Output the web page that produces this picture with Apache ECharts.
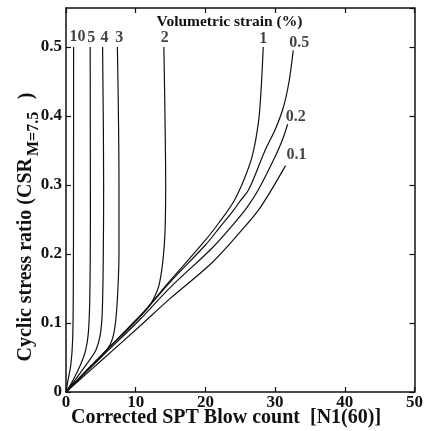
<!DOCTYPE html>
<html>
<head>
<meta charset="utf-8">
<script src="https://cdn.jsdelivr.net/npm/echarts@6/dist/echarts.min.js"></script>
<style>
html,body{margin:0;padding:0;background:#fff;}
#chart{width:426px;height:431px;}
</style>
</head>
<body>
<div id="chart"></div>
<script>
// ---- data ----
const curveNames = ['10', '5', '4', '3', '2', '1', '0.5', '0.2', '0.1'];

const strain10X = [0, 0.25, 0.7, 0.95, 1.05, 1.08, 1.09];
const strain10Y = [0, 0.015, 0.04, 0.075, 0.15, 0.3, 0.5];

const strain5X = [0, 1.0, 2.1, 2.8, 3.2, 3.4, 3.5, 3.47];
const strain5Y = [0, 0.017, 0.04, 0.06, 0.085, 0.13, 0.25, 0.5];

const strain4X = [0, 2.0, 3.5, 4.3, 4.9, 5.2, 5.35, 5.4, 5.25];
const strain4Y = [0, 0.027, 0.048, 0.061, 0.082, 0.115, 0.2, 0.3, 0.5];

const strain3X = [0, 3, 5.5, 6.3, 6.8, 7.15, 7.4, 7.6, 7.6, 7.37];
const strain3Y = [0, 0.032, 0.057, 0.068, 0.082, 0.105, 0.14, 0.2, 0.3, 0.5];

const strain2X = [0, 5, 10, 11.4, 12.4, 13.3, 13.9, 14.2, 14.3, 14.2, 14.04];
const strain2Y = [0, 0.052, 0.104, 0.118, 0.132, 0.153, 0.19, 0.23, 0.3, 0.4, 0.5];

const strain1X = [0, 5, 10.5, 15, 20, 22, 24, 25.5, 26.7, 27.6, 28.0, 28.3];
const strain1Y = [0, 0.052, 0.109, 0.162, 0.22, 0.246, 0.275, 0.307, 0.341, 0.39, 0.44, 0.5];

const strain05X = [0, 5, 10.5, 15, 20, 22, 24, 25, 26.2, 28.6, 30, 31.2, 32, 32.6];
const strain05Y = [0, 0.052, 0.108, 0.16, 0.213, 0.238, 0.263, 0.277, 0.293, 0.351, 0.38, 0.413, 0.45, 0.495];

const strain02X = [0, 5, 10.5, 15, 20.9, 24, 26, 27.6, 30, 31, 31.8];
const strain02Y = [0, 0.05, 0.104, 0.152, 0.208, 0.243, 0.268, 0.293, 0.341, 0.364, 0.388];

const strain01X = [0, 5, 10.5, 15, 20.9, 25, 27.5, 29.3, 31.5];
const strain01Y = [0, 0.045, 0.0946, 0.136, 0.187, 0.232, 0.262, 0.29, 0.328];

const xTicks = [0, 10, 20, 30, 40, 50];
const yTicks = [0, 0.1, 0.2, 0.3, 0.4, 0.5];

// ---- chart building ----
const curvesX = [strain10X, strain5X, strain4X, strain3X, strain2X, strain1X, strain05X, strain02X, strain01X];
const curvesY = [strain10Y, strain5Y, strain4Y, strain3Y, strain2Y, strain1Y, strain05Y, strain02Y, strain01Y];
// label offsets (pixels, label centre relative to curve end)
const labelOffsets = [[4, -10], [1, -9], [2, -9], [2, -9], [1, -9], [0, -8], [6, -8], [8, -7], [11, -11]];

const FONT = "'Liberation Serif', 'Times New Roman', serif";
const INK = '#111';

const lineSeries = curveNames.map((name, i) => ({
  name: name,
  type: 'line',
  xAxisIndex: 0,
  yAxisIndex: 0,
  showSymbol: false,
  symbol: 'none',
  smooth: 0.35,
  lineStyle: { color: INK, width: 1.2 },
  data: curvesX[i].map((x, j) => [x, curvesY[i][j]]),
  z: 3
}));

const labelSeries = {
  type: 'scatter',
  xAxisIndex: 0,
  yAxisIndex: 0,
  symbolSize: 0.01,
  silent: true,
  data: curveNames.map((name, i) => {
    const n = curvesX[i].length - 1;
    return {
      value: [curvesX[i][n], curvesY[i][n]],
      name: name,
      label: {
        show: true,
        formatter: name,
        position: labelOffsets[i],
        align: 'center',
        verticalAlign: 'middle',
        fontFamily: FONT,
        fontWeight: 'bold',
        fontSize: 16,
        color: INK
      }
    };
  }),
  z: 5
};

const xMin = xTicks[0], xMax = xTicks[xTicks.length - 1];
const yMin = yTicks[0], yMax = 0.5565;

const tickCommon = { show: true, inside: true, length: 5, lineStyle: { color: INK, width: 1.2 } };
const lineCommon = { show: true, onZero: false, lineStyle: { color: INK, width: 1.5 } };

const option = {
  animation: false,
  backgroundColor: '#fff',
  grid: { left: 66, right: 9, top: 8, bottom: 39, containLabel: false },
  xAxis: [
    {
      type: 'value', position: 'bottom', min: xMin, max: xMax, interval: 10,
      axisLine: lineCommon, axisTick: tickCommon, splitLine: { show: false },
      axisLabel: { color: INK, fontFamily: FONT, fontWeight: 'bold', fontSize: 17, margin: 2 }
    },
    {
      type: 'value', position: 'top', min: xMin, max: xMax, interval: 10,
      axisLine: lineCommon, axisTick: tickCommon, splitLine: { show: false },
      axisLabel: { show: false }
    }
  ],
  yAxis: [
    {
      type: 'value', position: 'left', min: yMin, max: yMax, interval: 0.1,
      axisLine: lineCommon, axisTick: tickCommon, splitLine: { show: false },
      axisLabel: {
        color: INK, fontFamily: FONT, fontWeight: 'bold', fontSize: 17, margin: 4,
        showMaxLabel: false,
        formatter: v => (v === 0 ? '0' : v.toFixed(1))
      }
    },
    {
      type: 'value', position: 'right', min: yMin, max: yMax, interval: 0.1,
      axisLine: lineCommon, axisTick: tickCommon, splitLine: { show: false },
      axisLabel: { show: false }
    }
  ],
  graphic: [
    {
      type: 'text',
      style: {
        text: 'Volumetric strain (%)', x: 229.5, y: 22,
        align: 'center', verticalAlign: 'middle',
        font: 'bold 15.5px ' + FONT, fill: INK
      }
    },
    {
      type: 'text',
      style: {
        text: 'Corrected SPT Blow count  [N1(60)]', x: 226, y: 418,
        align: 'center', verticalAlign: 'middle',
        font: 'bold 20px ' + FONT, fill: INK
      }
    },
    {
      type: 'text', x: 26, y: 158, rotation: Math.PI / 2,
      style: {
        text: 'Cyclic stress ratio (CSR', x: 0, y: 0,
        align: 'right', verticalAlign: 'middle',
        font: 'bold 20px ' + FONT, fill: INK
      }
    },
    {
      type: 'text', x: 34, y: 156, rotation: Math.PI / 2,
      style: {
        text: 'M=7.5', x: 0, y: 0,
        align: 'left', verticalAlign: 'middle',
        font: 'bold 16px ' + FONT, fill: INK
      }
    },
    {
      type: 'text', x: 27, y: 96, rotation: Math.PI / 2,
      style: {
        text: ')', x: 0, y: 0,
        align: 'center', verticalAlign: 'middle',
        font: 'bold 20px ' + FONT, fill: INK
      }
    }
  ],
  series: lineSeries.concat([labelSeries])
};

const chart = echarts.init(document.getElementById('chart'), null, { renderer: 'canvas' });
chart.setOption(option);
</script>
</body>
</html>
